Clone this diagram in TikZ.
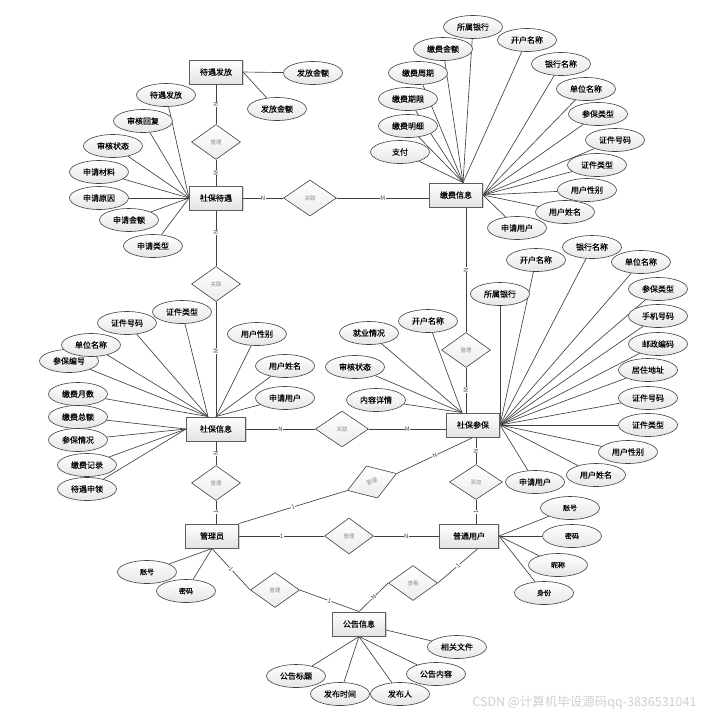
\documentclass[tikz,border=0pt]{standalone}
\usepackage{fontspec}
\setmainfont{Noto Sans CJK SC}[FakeBold=0.25]
\newfontfamily\plainfont{Noto Sans CJK SC}
\usetikzlibrary{shapes.geometric,shadows,backgrounds}
\definecolor{edge}{HTML}{404040}
\definecolor{relt}{HTML}{8C8C8C}
\definecolor{wmark}{HTML}{CFCFCF}
\tikzset{
  ent/.style={rectangle,draw=edge!85,line width=1pt,minimum width=53pt,minimum height=24pt,inner sep=0pt,
    top color=white,bottom color=gray!22,drop shadow={shadow xshift=1pt,shadow yshift=-1pt,opacity=0.35},
    font=\fontsize{8}{9}\selectfont},
  attr/.style={ellipse,draw=edge,line width=0.6pt,minimum width=59pt,minimum height=23pt,inner sep=0pt,
    top color=white,bottom color=gray!20,font=\fontsize{8}{9}\selectfont},
  sattr/.style={attr,font=\fontsize{7}{8}\selectfont},
  rel/.style={diamond,draw=edge,line width=0.6pt,minimum width=49pt,minimum height=35pt,inner sep=0pt,
    top color=white,bottom color=gray!15,text=relt,font=\plainfont\fontsize{5.5}{6}\selectfont},
  lnk/.style={draw=edge,line width=0.65pt},
  card/.style={fill=white,inner sep=0.4pt,text=edge,font=\plainfont\fontsize{6}{6}\selectfont},
  vcard/.style={card,rotate=90}
}

\begin{document}
\begin{tikzpicture}[x=1pt,y=-1pt]
  \useasboundingbox (0,0) rectangle (721,716);
  % entities
  \node[ent] (dyff) at (216,72) {待遇发放};
  \node[ent] (sbdy) at (216,198) {社保待遇};
  \node[ent] (jfxx) at (456,195) {缴费信息};
  \node[ent,minimum width=59pt] (sbxx) at (216,429) {社保信息};
  \node[ent] (sbcb) at (473,425) {社保参保};
  \node[ent] (gly) at (212,536) {管理员};
  \node[ent,minimum width=59pt] (ptyh) at (469,536) {普通用户};
  \node[ent] (ggxx) at (359,624) {公告信息};

  % relationships
  \node[rel] (glFf) at (216,142) {管理};
  \node[rel,minimum width=53pt,minimum height=36pt] (glJf) at (310,198) {关联};
  \node[rel] (glXx) at (216,284) {关联};
  \node[rel] (glCb) at (466,350) {管理};
  \node[rel,minimum width=53pt,minimum height=36pt] (glSb) at (342,429) {关联};
  \node[rel] (glGy) at (216,483) {管理};
  \node[rel,minimum width=52pt,minimum height=34pt,rotate=19] (glSh) at (372,482) {管理};
  \node[rel,minimum height=36pt] (glYh) at (349,536) {管理};
  \node[rel,minimum width=53pt] (tjYh) at (476,482) {添加};
  \node[rel] (glGg) at (275,590) {管理};
  \node[rel] (ckGg) at (413,583) {查看};

  % attributes of 待遇发放 / 社保待遇
  \node[attr] (aFf1) at (313,73) {发放金额};
  \node[attr] (aFf2) at (277,109) {发放金额};
  \node[attr] (aDy1) at (166,95) {待遇发放};
  \node[attr] (aDy2) at (143,121) {审核回复};
  \node[attr] (aDy3) at (113,146) {审核状态};
  \node[attr] (aDy4) at (99,172) {申请材料};
  \node[attr] (aDy5) at (99,198) {申请原因};
  \node[attr] (aDy6) at (129,220) {申请金额};
  \node[attr] (aDy7) at (153,246) {申请类型};

  % attributes of 缴费信息
  \node[attr] (aJf2) at (443,49) {缴费金额};
  \node[attr] (aJf1) at (473,27) {所属银行};
  \node[attr] (aJf3) at (527,40) {开户名称};
  \node[attr] (aJf4) at (418,73) {缴费周期};
  \node[attr] (aJf5) at (408,99) {缴费期限};
  \node[attr] (aJf6) at (408,126) {缴费明细};
  \node[attr] (aJf7) at (400,152) {支付};
  \node[attr] (aJf8) at (561,64) {银行名称};
  \node[attr] (aJf9) at (586,89) {单位名称};
  \node[attr] (aJf10) at (598,114) {参保类型};
  \node[attr] (aJf11) at (615,140) {证件号码};
  \node[attr] (aJf12) at (597,165) {证件类型};
  \node[attr] (aJf13) at (587,190) {用户性别};
  \node[attr] (aJf14) at (565,212) {用户姓名};
  \node[attr] (aJf15) at (517,228) {申请用户};

  % attributes of 社保信息
  \node[attr] (aXx1) at (127,323) {证件号码};
  \node[attr] (aXx2) at (182,312) {证件类型};
  \node[attr] (aXx4) at (69,361) {参保编号};
  \node[attr] (aXx3) at (91,345) {单位名称};
  \node[attr] (aXx5) at (78,394) {缴费月数};
  \node[attr] (aXx6) at (78,417) {缴费总额};
  \node[attr] (aXx7) at (78,440) {参保情况};
  \node[attr] (aXx8) at (87,465) {缴费记录};
  \node[attr] (aXx9) at (87,489) {待遇申领};
  \node[attr] (aXx10) at (257,334) {用户性别};
  \node[attr] (aXx11) at (285,366) {用户姓名};
  \node[attr] (aXx12) at (285,398) {申请用户};

  % attributes of 社保参保
  \node[attr] (aCb1) at (536,260) {开户名称};
  \node[attr] (aCb2) at (592,247) {银行名称};
  \node[attr] (aCb3) at (641,262) {单位名称};
  \node[attr] (aCb4) at (500,294) {所属银行};
  \node[attr] (aCb5) at (658,289) {参保类型};
  \node[attr] (aCb6) at (658,316) {手机号码};
  \node[attr] (aCb7) at (658,344) {邮政编码};
  \node[attr] (aCb8) at (648,370) {居住地址};
  \node[attr] (aCb9) at (648,398) {证件号码};
  \node[attr] (aCb10) at (648,425) {证件类型};
  \node[attr] (aCb11) at (628,452) {用户性别};
  \node[attr] (aCb12) at (596,475) {用户姓名};
  \node[attr] (aCb13) at (535,482) {申请用户};
  \node[attr] (aCb14) at (428,321) {开户名称};
  \node[attr] (aCb15) at (369,333) {就业情况};
  \node[attr] (aCb16) at (355,367) {审核状态};
  \node[attr] (aCb17) at (376,400) {内容详情};

  % attributes of 管理员 / 普通用户 / 公告信息
  \node[sattr] (aGy1) at (147,572) {账号};
  \node[sattr] (aGy2) at (186,591) {密码};
  \node[sattr] (aYh1) at (570,508) {账号};
  \node[sattr] (aYh2) at (572,536) {密码};
  \node[sattr] (aYh3) at (558,565) {昵称};
  \node[sattr] (aYh4) at (544,593) {身份};
  \node[attr] (aGg1) at (296,676) {公告标题};
  \node[attr] (aGg2) at (340,694) {发布时间};
  \node[attr] (aGg3) at (400,694) {发布人};
  \node[attr] (aGg4) at (436,674) {公告内容};
  \node[attr] (aGg5) at (457,647) {相关文件};

  \node[text=wmark,font=\plainfont\fontsize{12.5}{13}\selectfont,anchor=east] (wm) at (700,703) {CSDN @计算机毕设源码qq-3836531041};

  \begin{pgfonlayer}{background}
    % relationship lines
    \draw[lnk] (dyff.south) -- node[vcard]{N} (glFf.north);
    \draw[lnk] (glFf.south) -- node[vcard]{M} (sbdy.north);
    \draw[lnk] (sbdy.east) -- node[card]{N} (glJf.west);
    \draw[lnk] (glJf.east) -- node[card]{M} (glJf.east -| jfxx.west);
    \draw[lnk] (sbdy.south) -- node[vcard,pos=0.4]{N} (glXx.north);
    \draw[lnk] (glXx.south) -- node[vcard,pos=0.43]{M} (sbxx.north);
    \draw[lnk] (glCb.north) -- node[vcard]{N} (glCb.north |- jfxx.south);
    \draw[lnk] (glCb.south) -- node[vcard]{M} (glCb.south |- sbcb.north);
    \draw[lnk] (sbxx.east) -- node[card]{N} (glSb.west);
    \draw[lnk] (glSb.east) -- node[card]{M} (glSb.east -| sbcb.west);
    \draw[lnk] (sbxx.south) -- node[vcard]{N} (glGy.north);
    \draw[lnk] (glGy.south) -- node[vcard]{1} (glGy.south |- gly.north);
    \draw[lnk] (gly.north east) -- node[card,sloped]{1} (glSh.west);
    \draw[lnk] (glSh.east) -- node[card,sloped]{N} (sbcb.south);
    \draw[lnk] (tjYh.north) -- node[vcard]{N} (tjYh.north |- sbcb.south);
    \draw[lnk] (tjYh.south) -- node[vcard]{1} (tjYh.south |- ptyh.north);
    \draw[lnk] (gly.east) -- node[card]{1} (glYh.west);
    \draw[lnk] (glYh.east) -- node[card]{N} (ptyh.west);
    \draw[lnk] (gly.south) -- node[card,sloped]{1} (glGg.west);
    \draw[lnk] (glGg.east) -- node[card,sloped]{1} (ggxx.north);
    \draw[lnk] ([xshift=9]ptyh.south) -- node[card,sloped]{1} (ckGg.east);
    \draw[lnk] (ckGg.west) -- node[card,sloped]{N} (ggxx.north);

    % attribute lines
    \draw[lnk] (dyff.east) -- (aFf1);
    \draw[lnk] (dyff.east) -- (aFf2);
    \draw[lnk] (aDy1) -- (sbdy.west);
    \draw[lnk] (aDy2) -- (sbdy.west);
    \draw[lnk] (aDy3) -- (sbdy.west);
    \draw[lnk] (aDy4) -- (sbdy.west);
    \draw[lnk] (aDy5) -- (sbdy.west);
    \draw[lnk] (aDy6) -- (sbdy.west);
    \draw[lnk] (aDy7) -- (sbdy.west);

    \draw[lnk] (aJf1) -- ([xshift=7]jfxx.north);
    \draw[lnk] (aJf2) -- ([xshift=7]jfxx.north);
    \draw[lnk] (aJf3) -- ([xshift=7]jfxx.north);
    \draw[lnk] (aJf4) -- ([xshift=7]jfxx.north);
    \draw[lnk] (aJf5) -- ([xshift=7]jfxx.north);
    \draw[lnk] (aJf6) -- ([xshift=7]jfxx.north);
    \draw[lnk] (aJf7) -- ([xshift=7]jfxx.north);
    \draw[lnk] (aJf8) -- (jfxx.east);
    \draw[lnk] (aJf9) -- (jfxx.east);
    \draw[lnk] (aJf10) -- (jfxx.east);
    \draw[lnk] (aJf11) -- (jfxx.east);
    \draw[lnk] (aJf12) -- (jfxx.east);
    \draw[lnk] (aJf13) -- (jfxx.east);
    \draw[lnk] (aJf14) -- (jfxx.east);
    \draw[lnk] (aJf15) -- (jfxx.east);

    \draw[lnk] (aXx1) -- ([xshift=-8]sbxx.north);
    \draw[lnk] (aXx2) -- ([xshift=-8]sbxx.north);
    \draw[lnk] (aXx3) -- ([xshift=-8]sbxx.north);
    \draw[lnk] (aXx4) -- ([xshift=-8]sbxx.north);
    \draw[lnk] (aXx5) -- ([xshift=-8]sbxx.north);
    \draw[lnk] (aXx6) -- (sbxx.west);
    \draw[lnk] (aXx7) -- (sbxx.west);
    \draw[lnk] (aXx8) -- (sbxx.west);
    \draw[lnk] (aXx9) -- (sbxx.west);
    \draw[lnk] (aXx10) -- (sbxx.north);
    \draw[lnk] (aXx11) -- (sbxx.north);
    \draw[lnk] (aXx12) -- (sbxx.north);

    \draw[lnk] (aCb1) -- (sbcb.east);
    \draw[lnk] (aCb2) -- (sbcb.east);
    \draw[lnk] (aCb3) -- (sbcb.east);
    \draw[lnk] (aCb4) -- (sbcb.east);
    \draw[lnk] (aCb5) -- (sbcb.east);
    \draw[lnk] (aCb6) -- (sbcb.east);
    \draw[lnk] (aCb7) -- (sbcb.east);
    \draw[lnk] (aCb8) -- (sbcb.east);
    \draw[lnk] (aCb9) -- (sbcb.east);
    \draw[lnk] (aCb10) -- (sbcb.east);
    \draw[lnk] (aCb11) -- (sbcb.east);
    \draw[lnk] (aCb12) -- (sbcb.east);
    \draw[lnk] (aCb13) -- (sbcb.east);
    \draw[lnk] (aCb14) -- ([xshift=-11]sbcb.north);
    \draw[lnk] (aCb15) -- ([xshift=-11]sbcb.north);
    \draw[lnk] (aCb16) -- ([xshift=-11]sbcb.north);
    \draw[lnk] (aCb17) -- ([xshift=-11]sbcb.north);

    \draw[lnk] (aGy1) -- (gly.south);
    \draw[lnk] (aGy2) -- (gly.south);
    \draw[lnk] (aYh1) -- (ptyh.east);
    \draw[lnk] (aYh2) -- (ptyh.east);
    \draw[lnk] (aYh3) -- (ptyh.east);
    \draw[lnk] (aYh4) -- (ptyh.east);
    \draw[lnk] (aGg1) -- (ggxx.south);
    \draw[lnk] (aGg2) -- (ggxx.south);
    \draw[lnk] (aGg3) -- (ggxx.south);
    \draw[lnk] (aGg4) -- (ggxx.south);
    \draw[lnk] (aGg5) -- ([yshift=-6]ggxx.east);
  \end{pgfonlayer}
\end{tikzpicture}
\end{document}
